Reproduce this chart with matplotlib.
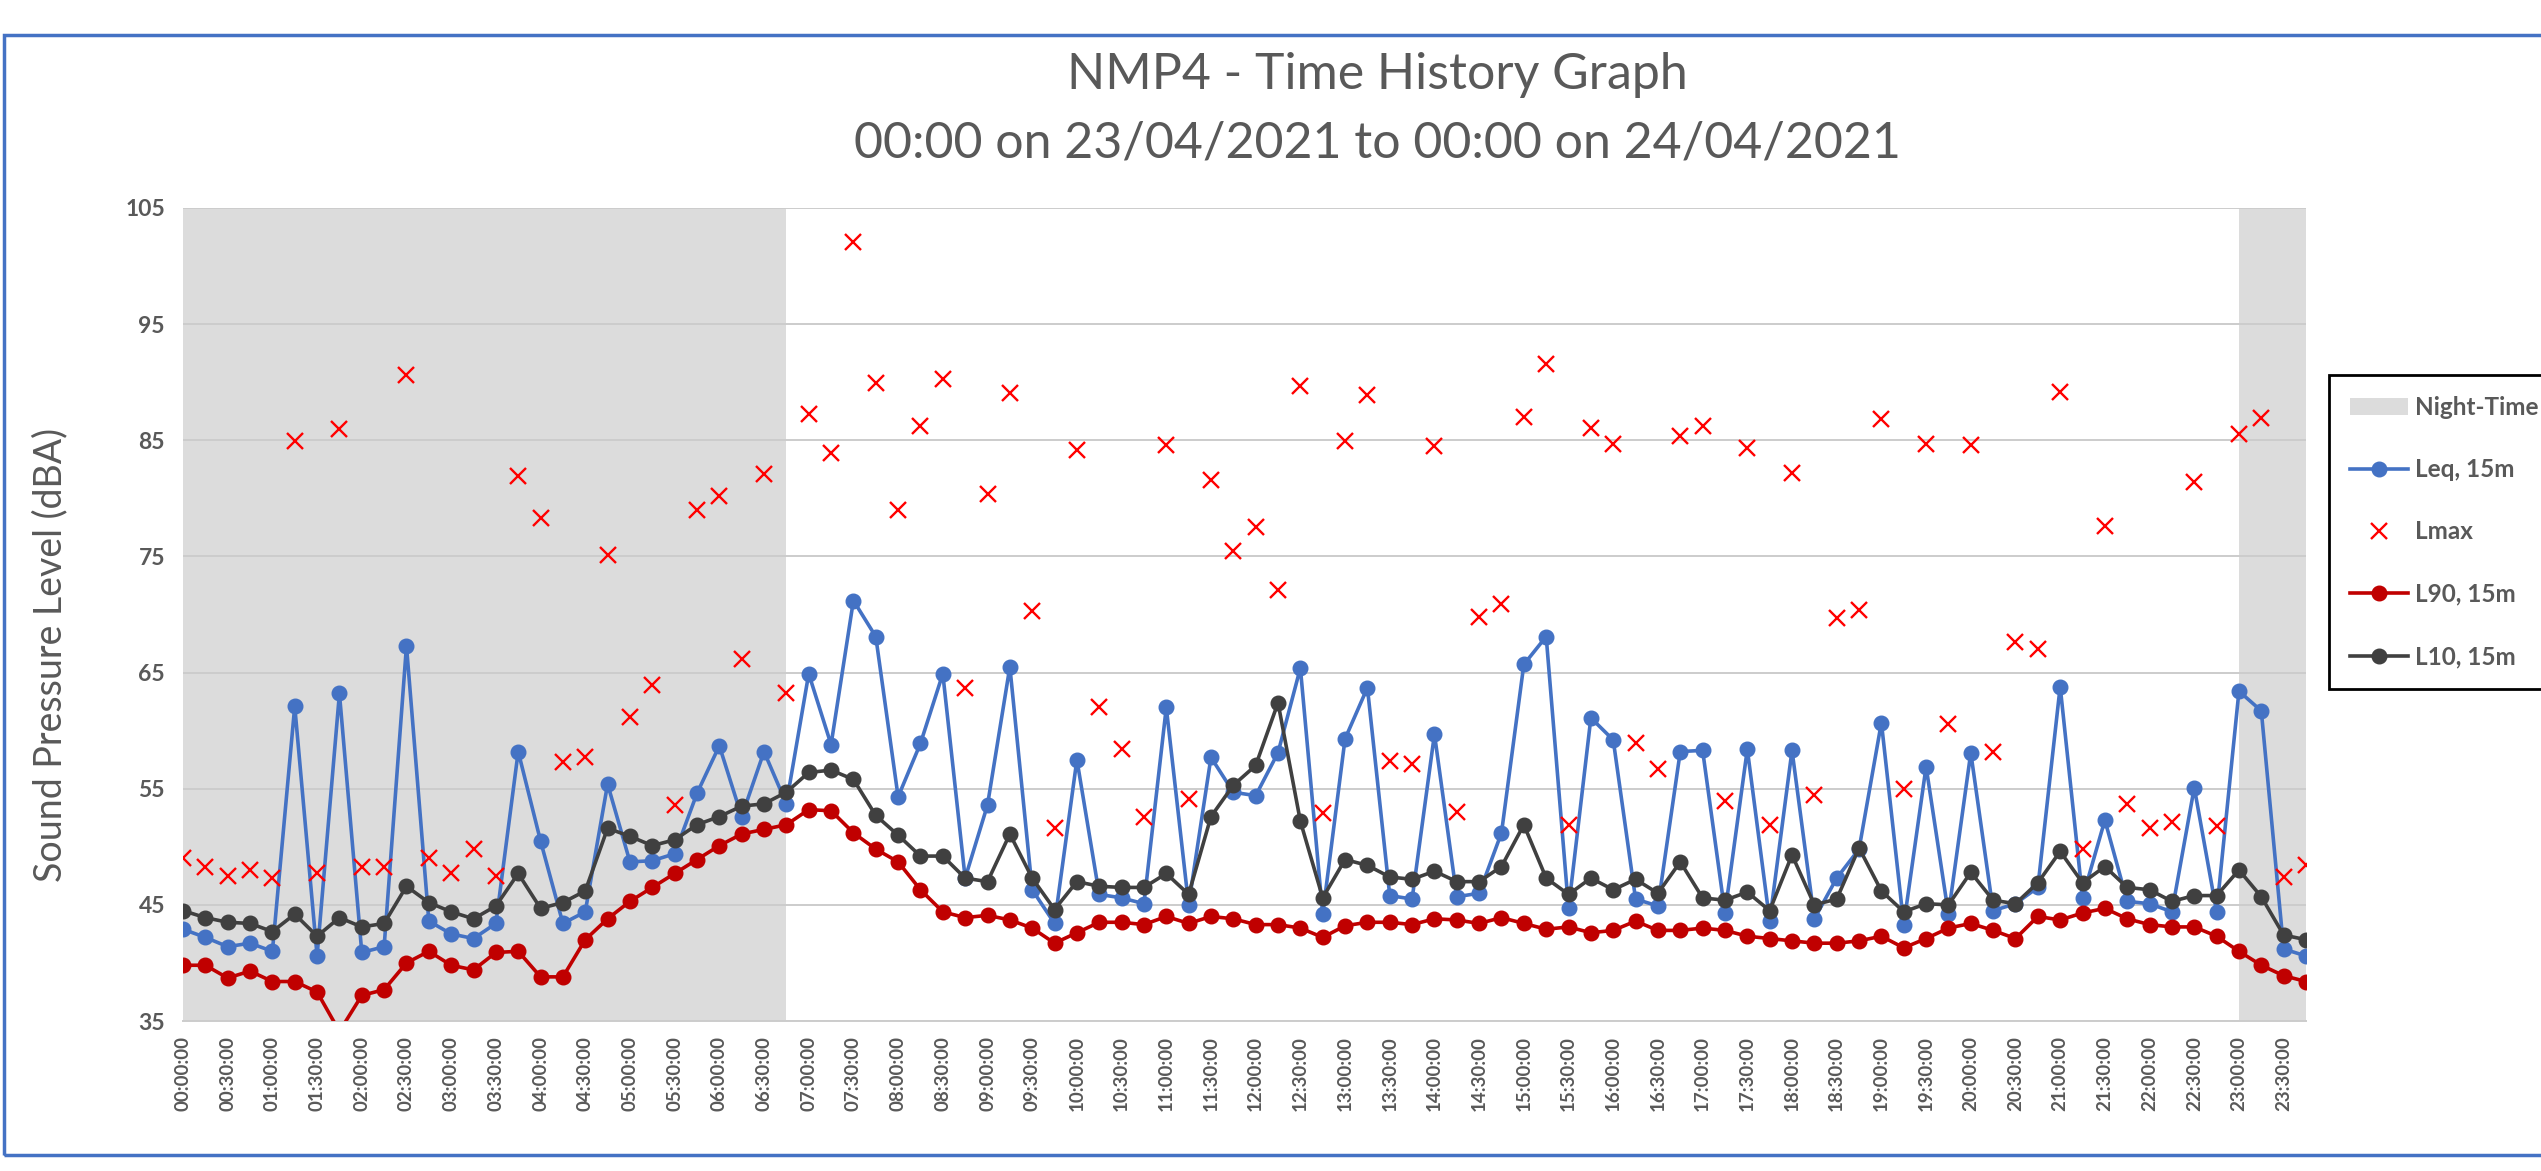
import matplotlib
matplotlib.use("Agg")
import matplotlib.pyplot as plt
from matplotlib.patches import Rectangle, Patch
from matplotlib.lines import Line2D
import numpy as np

# ---------------- data ----------------
times = [f"{h:02d}:{m:02d}:00" for h in range(24) for m in (0, 15, 30, 45)]
tick_labels = times[::2]

leq = [42.9, 42.2, 41.4, 41.7, 41.0, 62.1, 40.6, 63.2, 40.9, 41.4, 67.3, 43.6, 42.5, 42.1, 43.4, 58.2, 50.5,
       43.4, 44.4, 55.4, 48.7, 48.8, 49.4, 54.6, 58.7, 52.6, 58.2, 53.7, 64.9, 58.8, 71.2, 68.1, 54.3,
       58.9, 64.9, 47.3, 53.6, 65.5, 46.3, 43.4, 57.5, 45.9, 45.6, 45.1, 62.0, 45.0, 57.7, 54.7, 54.4,
       58.1, 65.4, 44.2, 59.3, 63.7, 45.8, 45.5, 59.7, 45.7, 46.0, 51.2, 65.7, 68.1, 44.7, 61.1, 59.2,
       45.5, 44.9, 58.2, 58.3, 44.3, 58.4, 43.6, 58.3, 43.8, 47.3, 49.8, 60.7, 43.3, 56.9, 44.2, 58.1,
       44.5, 45.1, 46.5, 63.8, 45.6, 52.3, 45.3, 45.1, 44.4, 55.1, 44.4, 63.4, 61.7, 41.2, 40.6]

lmax = [49.0, 48.3, 47.5, 48.0, 47.3, 84.9, 47.7, 86.0, 48.3, 48.3, 90.6, 49.0, 47.7, 49.8, 47.5, 81.9, 78.3,
        57.3, 57.7, 75.1, 61.2, 63.9, 53.6, 79.0, 80.2, 66.2, 82.1, 63.2, 87.3, 83.9, 102.1, 89.9, 79.0,
        86.2, 90.3, 63.7, 80.4, 89.1, 70.3, 51.6, 84.2, 62.0, 58.4, 52.6, 84.6, 54.1, 81.6, 75.5, 77.5,
        72.1, 89.7, 52.9, 84.9, 88.9, 57.4, 57.1, 84.5, 53.0, 69.8, 70.9, 87.0, 91.6, 51.9, 86.1, 84.7,
        58.9, 56.7, 85.4, 86.2, 53.9, 84.3, 51.9, 82.2, 54.5, 69.7, 70.4, 86.8, 55.0, 84.7, 60.6, 84.6,
        58.2, 67.6, 67.0, 89.2, 49.8, 77.6, 53.7, 51.6, 52.1, 81.4, 51.8, 85.5, 86.9, 47.4, 48.4]

l90 = [39.8, 39.8, 38.7, 39.3, 38.4, 38.4, 37.5, 34.1, 37.2, 37.7, 40.0, 41.0, 39.8, 39.4, 40.9, 41.0, 38.8,
       38.8, 42.0, 43.8, 45.3, 46.5, 47.7, 48.9, 50.1, 51.1, 51.5, 51.9, 53.2, 53.1, 51.2, 49.8, 48.7,
       46.3, 44.4, 43.9, 44.1, 43.7, 43.0, 41.7, 42.6, 43.5, 43.5, 43.3, 44.0, 43.4, 44.0, 43.8, 43.3,
       43.3, 43.0, 42.2, 43.2, 43.5, 43.5, 43.3, 43.8, 43.7, 43.4, 43.9, 43.4, 42.9, 43.1, 42.6, 42.8,
       43.6, 42.8, 42.8, 43.0, 42.8, 42.3, 42.1, 41.9, 41.7, 41.7, 41.9, 42.3, 41.3, 42.1, 43.0, 43.4,
       42.8, 42.1, 44.0, 43.7, 44.3, 44.7, 43.8, 43.3, 43.1, 43.1, 42.3, 41.0, 39.8, 38.9, 38.4]

l10 = [44.5, 43.9, 43.5, 43.4, 42.7, 44.2, 42.3, 43.9, 43.1, 43.4, 46.6, 45.2, 44.4, 43.8, 44.9, 47.7, 44.7,
       45.2, 46.2, 51.6, 50.9, 50.1, 50.6, 51.9, 52.6, 53.5, 53.7, 54.7, 56.4, 56.6, 55.8, 52.7, 51.0,
       49.2, 49.2, 47.3, 47.0, 51.1, 47.3, 44.6, 47.0, 46.6, 46.5, 46.5, 47.7, 45.9, 52.6, 55.3, 57.0,
       62.4, 52.2, 45.6, 48.9, 48.4, 47.4, 47.2, 47.9, 47.0, 47.0, 48.3, 51.9, 47.3, 45.9, 47.3, 46.3,
       47.2, 46.0, 48.7, 45.6, 45.4, 46.1, 44.5, 49.3, 45.0, 45.5, 49.9, 46.2, 44.4, 45.1, 45.0, 47.8,
       45.4, 45.1, 46.9, 49.6, 46.9, 48.3, 46.5, 46.3, 45.3, 45.8, 45.8, 48.0, 45.7, 42.4, 42.0]

night_periods = [("00:00:00", "06:45:00"), ("23:00:00", "23:45:00")]

title_line1 = "NMP4 - Time History Graph"
title_line2 = "00:00 on 23/04/2021 to 00:00 on 24/04/2021"
y_label = "Sound Pressure Level (dBA)"

# ---------------- style ----------------
C_LEQ = "#4472C4"
C_LMAX = "#FF0000"
C_L90 = "#C00000"
C_L10 = "#404040"
C_NIGHT = "#DCDCDC"
C_TEXT = "#595959"

plt.rcParams['font.family'] = ['Lato', 'DejaVu Sans']

W, H = 2541, 1171
fig = plt.figure(figsize=(W / 100, H / 100), dpi=100)
fig.patch.set_facecolor("white")

x0, x1, y0, y1 = 183, 2306, 208, 1021
ax = fig.add_axes([x0 / W, 1 - y1 / H, (x1 - x0) / W, (y1 - y0) / H])

x = np.arange(len(times))
for s, e in night_periods:
    ax.axvspan(times.index(s), times.index(e), color=C_NIGHT, lw=0, zorder=0)

ax.set_xlim(0, len(times) - 1)
ax.set_ylim(35, 105)
ax.set_yticks(range(35, 106, 10))
ax.yaxis.grid(True, color="#CCCCCC", lw=1.4, zorder=0.5)
ax.set_axisbelow(False)
for sp in ["top", "right", "left"]:
    ax.spines[sp].set_visible(False)
ax.spines["bottom"].set_color("#CCCCCC")
ax.spines["bottom"].set_linewidth(1.4)

lw = 2.6
ms = 10.5
ax.plot(x, leq, color=C_LEQ, lw=lw, marker="o", ms=ms, zorder=3)
ax.plot(x, lmax, color=C_LMAX, ls="none", marker="x", ms=11, mew=1.7, zorder=4)
ax.plot(x, l90, color=C_L90, lw=lw, marker="o", ms=ms, zorder=5)
ax.plot(x, l10, color=C_L10, lw=lw, marker="o", ms=ms, zorder=6)

ax.set_xticks(x[::2])
ax.set_xticklabels(tick_labels, rotation=90, fontsize=13.5, color=C_TEXT, fontweight="bold")
ax.tick_params(axis="x", length=0, pad=11)
ax.tick_params(axis="y", length=0, pad=13, labelsize=16.5, labelcolor=C_TEXT)
for t in ax.get_yticklabels():
    t.set_fontweight("bold")

ax.set_ylabel(y_label, fontsize=27, color=C_TEXT)
ax.yaxis.set_label_coords((68 - x0) / (x1 - x0), (y1 - 655) / (y1 - y0))

fig.text(1377 / W, 1 - 75 / H, title_line1, ha="center", va="center", fontsize=36, color=C_TEXT)
fig.text(1377 / W, 1 - 143 / H, title_line2, ha="center", va="center", fontsize=36, color=C_TEXT)

# outer chart frame
fig.patches.append(Rectangle((4 / W, 1 - 1155 / H), 1.2, (1155 - 35) / H, transform=fig.transFigure,
                             fill=False, edgecolor="#4472C4", lw=2.5, clip_on=False))

handles = [
    Patch(facecolor=C_NIGHT, edgecolor="none"),
    Line2D([], [], color=C_LEQ, lw=lw, marker="o", ms=ms),
    Line2D([], [], color=C_LMAX, ls="none", marker="x", ms=11, mew=1.7),
    Line2D([], [], color=C_L90, lw=lw, marker="o", ms=ms),
    Line2D([], [], color=C_L10, lw=lw, marker="o", ms=ms),
]
labels = ["Night-Time", "Leq, 15m", "Lmax", "L90, 15m", "L10, 15m"]
leg = fig.legend(handles, labels, loc="upper left", bbox_to_anchor=(2329 / W, 1 - 375 / H),
                 frameon=True, fancybox=False, framealpha=1, edgecolor="black",
                 prop={"size": 17.5, "weight": "bold"}, labelcolor=C_TEXT,
                 handlelength=2.4, handletextpad=0.3,
                 labelspacing=1.62, borderpad=0.85, borderaxespad=0)
leg.get_frame().set_linewidth(2)

fig.savefig("out.png", dpi=100)
